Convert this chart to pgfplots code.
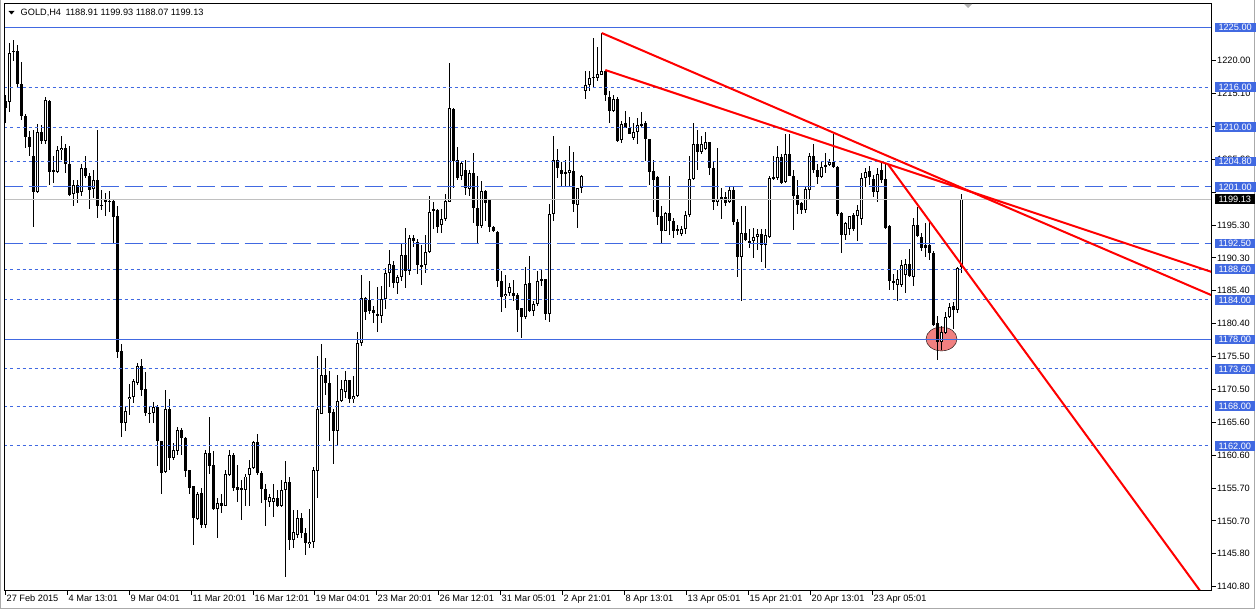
\documentclass[border=0pt]{standalone}
\usepackage{fontspec}
\setmainfont{Liberation Sans}
\usepackage{pgfplots}
\pgfplotsset{compat=1.18}
\usepackage{pgfplotstable}
\definecolor{mtblue}{RGB}{65,105,225}
\definecolor{mtred}{RGB}{255,0,0}
\definecolor{lcoral}{RGB}{240,128,128}
\definecolor{curgray}{RGB}{192,192,192}
\definecolor{framegray}{RGB}{170,170,170}
\newcommand\lblfont{\fontsize{9.2}{10}\selectfont}

% GOLD H4 candles: open high low close (bar index = row number)
\pgfplotstableread{
o h l c
1213.9 1214.9 1210.6 1212.9
1213.8 1222.7 1212.3 1221.2
1221.5 1223.2 1219.9 1221.3
1221.5 1222.4 1216.1 1216.5
1216.5 1219.8 1211.1 1211.6
1211.7 1211.9 1206.9 1208.5
1208.5 1209.4 1205.6 1207.0
1205.7 1209.6 1195.0 1200.2
1200.2 1210.4 1200.1 1209.3
1209.3 1210.3 1207.4 1207.9
1207.9 1214.6 1207.4 1214.1
1214.0 1214.1 1201.3 1203.3
1203.6 1205.6 1201.6 1203.3
1203.2 1207.1 1203.1 1206.6
1206.5 1208.7 1205.1 1206.9
1206.9 1207.4 1203.1 1204.5
1204.5 1207.1 1199.6 1199.8
1199.9 1202.1 1198.1 1201.3
1201.3 1202.1 1198.6 1200.1
1200.2 1204.5 1199.6 1203.9
1203.9 1205.6 1202.3 1202.6
1202.7 1203.1 1197.6 1200.5
1200.7 1203.6 1199.3 1202.1
1202.0 1209.5 1196.3 1198.1
1198.3 1200.6 1197.5 1198.1
1199.1 1200.1 1196.6 1198.8
1198.9 1200.4 1197.3 1198.8
1198.9 1199.0 1192.6 1196.4
1196.6 1198.1 1175.2 1176.2
1176.3 1177.4 1163.4 1165.4
1165.4 1167.9 1164.3 1167.3
1169.0 1171.4 1166.7 1169.4
1169.4 1172.1 1168.5 1171.8
1171.5 1174.5 1171.2 1174.1
1174.1 1175.1 1169.5 1170.5
1170.6 1173.2 1166.5 1166.9
1167.0 1167.9 1165.5 1166.9
1166.9 1168.6 1165.5 1167.9
1167.9 1168.2 1159.0 1162.7
1162.8 1162.8 1154.8 1158.0
1158.0 1170.4 1157.9 1167.5
1167.5 1169.0 1158.4 1160.2
1160.2 1162.4 1159.9 1161.4
1161.3 1164.9 1160.7 1164.4
1164.4 1164.7 1160.7 1163.2
1163.2 1163.4 1157.4 1158.2
1158.3 1158.3 1154.7 1155.7
1155.9 1156.0 1147.1 1151.1
1151.0 1155.0 1150.9 1154.8
1154.9 1155.7 1149.6 1150.1
1150.1 1161.4 1149.6 1160.9
1160.9 1166.4 1157.7 1159.0
1159.2 1161.3 1152.3 1152.5
1152.5 1154.2 1148.2 1153.4
1153.4 1154.8 1151.9 1152.9
1153.0 1158.3 1152.9 1157.7
1157.6 1161.4 1157.4 1160.7
1160.7 1160.9 1155.2 1155.6
1155.8 1159.2 1153.6 1155.4
1155.6 1156.9 1150.9 1155.3
1155.3 1157.8 1152.9 1157.4
1157.7 1159.9 1152.9 1158.7
1158.7 1162.8 1158.5 1162.6
1162.6 1163.8 1157.7 1157.9
1157.9 1158.3 1153.4 1155.5
1155.5 1156.3 1150.0 1153.8
1153.6 1154.8 1152.8 1154.3
1153.6 1156.3 1151.3 1154.2
1154.2 1155.4 1152.8 1153.0
1153.0 1156.8 1152.8 1155.4
1155.4 1159.7 1142.3 1156.6
1156.6 1157.4 1146.4 1147.8
1147.8 1152.4 1146.6 1149.0
1148.6 1152.4 1148.1 1151.1
1151.1 1151.9 1148.1 1148.9
1148.9 1149.6 1145.6 1147.4
1147.2 1152.5 1146.6 1147.6
1147.5 1158.9 1146.6 1158.3
1158.3 1175.5 1154.2 1167.5
1166.8 1177.4 1166.8 1172.7
1172.7 1175.2 1169.7 1171.5
1171.5 1173.3 1162.8 1167.0
1167.1 1167.5 1159.2 1164.3
1164.3 1172.7 1162.1 1168.8
1168.7 1172.0 1168.6 1170.6
1170.1 1173.3 1169.2 1171.9
1171.9 1172.0 1168.5 1169.0
1169.0 1172.5 1168.4 1169.5
1169.5 1179.2 1169.4 1177.5
1177.5 1187.8 1177.1 1184.3
1184.3 1184.5 1181.0 1182.1
1184.0 1186.8 1181.8 1182.3
1182.4 1183.0 1180.5 1182.0
1181.9 1186.0 1179.1 1181.5
1181.5 1186.1 1180.5 1184.1
1184.1 1188.8 1182.6 1188.0
1188.0 1191.5 1186.0 1189.4
1189.3 1189.9 1185.8 1186.6
1186.6 1187.8 1184.8 1187.4
1187.4 1192.5 1186.8 1190.8
1190.8 1194.8 1185.8 1188.4
1188.4 1193.8 1187.8 1193.3
1193.3 1193.8 1192.0 1192.9
1192.7 1193.1 1187.9 1189.3
1189.3 1192.3 1186.3 1189.0
1189.2 1193.7 1188.1 1191.2
1191.2 1199.6 1191.0 1197.3
1197.6 1198.8 1194.6 1197.3
1197.6 1197.7 1194.1 1195.0
1195.2 1197.7 1194.1 1196.2
1196.1 1199.9 1195.9 1198.8
1198.8 1219.7 1198.8 1212.9
1212.7 1212.9 1200.8 1204.9
1205.1 1207.0 1202.1 1202.4
1202.6 1204.7 1202.1 1204.6
1203.6 1205.1 1199.8 1200.8
1200.7 1203.6 1199.6 1203.1
1203.1 1206.1 1195.6 1197.8
1197.8 1202.7 1192.4 1195.1
1195.1 1201.9 1194.8 1200.4
1200.4 1200.6 1195.9 1198.6
1199.0 1199.1 1194.2 1195.0
1194.9 1195.1 1194.2 1194.3
1194.2 1194.3 1186.0 1186.8
1186.8 1188.4 1182.1 1184.5
1184.5 1187.8 1182.8 1184.9
1185.0 1186.6 1184.5 1186.0
1185.1 1187.0 1183.8 1184.6
1184.8 1185.0 1179.2 1182.5
1182.7 1182.8 1178.2 1181.4
1181.4 1189.0 1181.1 1186.4
1186.5 1190.6 1182.1 1182.3
1182.3 1183.8 1181.6 1183.4
1183.3 1188.3 1183.0 1186.8
1186.8 1188.7 1186.0 1187.1
1187.1 1187.1 1180.9 1181.8
1181.8 1198.4 1180.6 1196.9
1196.9 1208.6 1195.9 1205.0
1205.0 1206.7 1202.3 1203.9
1203.6 1204.8 1201.1 1203.0
1203.2 1205.0 1201.1 1203.0
1203.1 1207.2 1201.1 1203.6
1203.4 1206.2 1197.3 1198.4
1198.3 1200.9 1194.8 1200.8
1200.8 1202.8 1200.1 1202.7
1215.5 1218.5 1214.3 1216.4
1216.3 1218.5 1215.4 1217.4
1217.4 1223.4 1216.1 1217.6
1217.4 1222.0 1216.9 1218.0
1217.9 1224.2 1217.9 1218.5
1218.4 1218.65 1213.9 1214.8
1214.6 1215.5 1210.6 1212.4
1212.4 1214.8 1212.3 1214.3
1214.3 1214.6 1207.8 1207.9
1208.1 1210.9 1207.6 1210.5
1210.6 1212.4 1209.9 1209.9
1209.9 1211.5 1208.9 1208.9
1208.4 1210.6 1208.1 1209.3
1209.3 1211.4 1207.5 1210.4
1210.5 1212.3 1209.9 1210.3
1210.6 1210.9 1204.9 1208.2
1208.2 1208.2 1201.3 1203.2
1203.4 1205.1 1197.3 1202.1
1202.5 1202.7 1195.3 1196.4
1196.6 1198.1 1192.4 1194.4
1194.4 1197.3 1194.3 1197.1
1197.1 1202.7 1193.7 1195.8
1195.9 1196.3 1193.3 1194.3
1194.6 1195.2 1193.7 1194.3
1193.9 1195.05 1193.6 1194.6
1194.6 1197.3 1193.95 1196.7
1196.7 1205.6 1196.5 1202.2
1202.2 1210.6 1202.1 1207.4
1207.4 1209.5 1203.5 1206.2
1206.2 1208.6 1205.9 1207.5
1206.7 1209.2 1206.6 1207.7
1207.7 1207.7 1202.8 1203.9
1203.9 1204.8 1197.5 1198.8
1198.8 1206.9 1198.1 1199.2
1199.2 1200.8 1196.2 1199.5
1199.5 1200.3 1198.1 1198.6
1198.8 1201.2 1198.6 1200.6
1200.6 1201.1 1195.3 1195.7
1195.7 1196.1 1187.5 1190.5
1190.5 1198.1 1183.8 1194.1
1194.1 1198.1 1192.8 1193.05
1192.9 1194.6 1191.8 1192.5
1192.8 1194.8 1190.3 1193.5
1193.5 1194.6 1191.55 1193.95
1193.95 1194.7 1189.7 1192.3
1192.3 1194.6 1188.8 1193.8
1193.5 1202.6 1193.3 1202.3
1202.2 1205.6 1202.1 1202.5
1202.3 1207.2 1202.1 1205.5
1205.5 1206.0 1201.5 1201.6
1201.7 1209.0 1201.6 1205.9
1205.9 1209.0 1202.6 1202.7
1202.7 1203.6 1194.45 1199.7
1199.8 1202.1 1196.96 1198.3
1198.6 1198.8 1197.0 1197.5
1197.5 1201.2 1197.1 1200.7
1200.6 1206.1 1199.2 1205.7
1205.7 1207.4 1203.1 1203.5
1203.6 1204.5 1201.5 1202.5
1202.5 1204.8 1202.3 1204.0
1204.1 1206.1 1203.1 1204.3
1204.3 1205.2 1204.1 1204.8
1204.8 1209.0 1203.9 1204.0
1204.0 1204.1 1196.6 1197.0
1197.1 1197.2 1191.1 1193.8
1193.8 1195.8 1193.05 1195.6
1194.6 1196.7 1193.8 1196.6
1196.8 1197.1 1194.4 1194.6
1196.7 1198.3 1192.8 1197.6
1196.1 1203.1 1195.3 1202.3
1202.3 1203.9 1201.0 1203.3
1203.4 1204.1 1201.3 1202.5
1202.2 1202.8 1199.5 1200.3
1200.3 1203.9 1198.8 1203.0
1203.6 1204.6 1201.6 1202.1
1202.2 1204.6 1194.7 1194.8
1195.05 1195.2 1185.5 1186.8
1186.9 1187.9 1185.5 1186.5
1186.3 1188.5 1183.9 1187.1
1186.3 1190.0 1186.0 1189.3
1187.8 1190.1 1185.1 1189.4
1189.4 1191.7 1187.5 1187.6
1187.5 1196.3 1186.0 1195.2
1195.2 1197.97 1193.5 1193.65
1193.5 1194.1 1191.3 1191.8
1192.3 1195.6 1190.4 1191.8
1192.3 1195.65 1190.0 1191.0
1191.0 1191.3 1180.0 1180.2
1180.5 1181.5 1174.9 1177.6
1177.6 1180.0 1176.5 1179.2
1179.0 1182.1 1178.8 1181.4
1181.4 1183.5 1181.3 1182.9
1183.0 1183.6 1179.6 1182.4
1182.4 1189.0 1182.0 1188.8
1188.91 1199.93 1188.07 1199.13
}\candles

\pgfplotsset{
  candlepart/.style={draw=none, mark=none, forget plot,
    error bars/.cd, y dir=both, y explicit, error mark=none,
    error bar style={line cap=butt, #1}},
  level/.style={color=mtblue, line width=1pt, mark=none, forget plot},
}

\begin{document}
\begin{tikzpicture}
\path[use as bounding box] (0pt,0pt) rectangle (1257pt,611pt);
\fill[white] (0pt,0pt) rectangle (1257pt,611pt);
\draw[framegray, line width=1pt] (0.5pt,611pt) -- (0.5pt,2.5pt) -- (1254.5pt,2.5pt) -- (1254.5pt,611pt);
\begin{axis}[
  at={(4.5pt,20.5pt)}, anchor=south west,
  scale only axis, width=1207pt, height=587pt,
  xmin=-0.25, xmax=301.5, ymin=1140.224, ymax=1228.614,
  clip marker paths=true,
  axis line style={black, line width=1pt},
  tick align=outside, major tick length=4pt,
  tick style={black, line width=1pt},
  xtick pos=bottom, ytick pos=right, yticklabel pos=right,
  ytick={1140.8,1145.75,1150.7,1155.65,1160.6,1165.55,1170.5,1175.45,1180.4,1185.35,1190.3,1195.25,1200.2,1205.15,1210.1,1215.05,1220},
  yticklabels={1140.80,1145.80,1150.70,1155.70,1160.60,1165.60,1170.50,1175.50,1180.40,1185.40,1190.30,1195.30,{},1205.20,{},1215.10,1220.00},
  yticklabel style={anchor=west, inner sep=0pt, font=\lblfont, xshift=1.5pt},
  xtick={0,15.5,31,46.5,62,77.25,92.75,108.25,123.75,139.25,154.75,170.25,185.75,201.25,216.75},
  xticklabels={27 Feb 2015,4 Mar 13:01,9 Mar 04:01,11 Mar 20:01,16 Mar 12:01,19 Mar 04:01,23 Mar 20:01,26 Mar 12:01,31 Mar 05:01,2 Apr 21:01,8 Apr 13:01,13 Apr 05:01,15 Apr 21:01,20 Apr 13:01,23 Apr 05:01},
  xticklabel style={anchor=north west, inner sep=0pt, font=\lblfont, xshift=1pt},
  axis on top,
]
% highlight ellipse (background object)
\addplot[only marks, mark=*, mark size=15.5pt, mark options={fill=lcoral, draw=none, yscale=0.77}, forget plot] coordinates {(234.0,1178.1)};
% wicks
\addplot[candlepart={draw=black, line width=1pt}]
  table[x expr=\coordindex, y expr={(\thisrow{h}+\thisrow{l})/2}, y error expr={(\thisrow{h}-\thisrow{l})/2}] {\candles};
% bodies (outline / filled)
\addplot[candlepart={draw=black, line width=3pt}]
  table[x expr=\coordindex, y expr={(\thisrow{o}+\thisrow{c})/2}, y error expr={max(abs(\thisrow{c}-\thisrow{o})/2,0.075)}] {\candles};
% hollow interior of rising candles
\addplot[candlepart={draw=white, line width=1pt}]
  table[x expr=\coordindex, y expr={(\thisrow{o}+\thisrow{c})/2}, y error expr={(\thisrow{c}>\thisrow{o})*max(abs(\thisrow{c}-\thisrow{o})/2-0.15,0)}] {\candles};
% horizontal levels
\addplot[color=curgray, line width=1pt, mark=none, forget plot] coordinates {(-0.25,1199.13) (301.5,1199.13)};
\addplot[level] coordinates {(-0.25,1225) (301.5,1225)};
\addplot[level] coordinates {(-0.25,1178) (301.5,1178)};
\addplot[level, dash pattern=on 3pt off 3pt] coordinates {(-0.25,1216) (301.5,1216)};
\addplot[level, dash pattern=on 3pt off 3pt] coordinates {(-0.25,1210) (301.5,1210)};
\addplot[level, dash pattern=on 3pt off 3pt] coordinates {(-0.25,1204.8) (301.5,1204.8)};
\addplot[level, dash pattern=on 3pt off 3pt] coordinates {(-0.25,1188.6) (301.5,1188.6)};
\addplot[level, dash pattern=on 3pt off 3pt] coordinates {(-0.25,1184) (301.5,1184)};
\addplot[level, dash pattern=on 3pt off 3pt] coordinates {(-0.25,1173.6) (301.5,1173.6)};
\addplot[level, dash pattern=on 3pt off 3pt] coordinates {(-0.25,1168) (301.5,1168)};
\addplot[level, dash pattern=on 3pt off 3pt] coordinates {(-0.25,1162) (301.5,1162)};
\addplot[level, dash pattern=on 18pt off 6pt] coordinates {(-0.25,1201) (301.5,1201)};
\addplot[level, dash pattern=on 18pt off 6pt] coordinates {(-0.25,1192.5) (301.5,1192.5)};
% trend lines
\addplot[color=mtred, line width=2pt, mark=none, forget plot] coordinates {(149.05,1224.17) (301.5,1184.69)};
\addplot[color=mtred, line width=2pt, mark=none, forget plot] coordinates {(149.95,1218.6) (301.5,1188.2)};
\addplot[color=mtred, line width=2pt, mark=none, forget plot] coordinates {(220.7,1204.34) (298.6,1140.224)};
% anchors for price boxes
\coordinate (p1225) at (axis cs:301.5,1225);
\coordinate (p1216) at (axis cs:301.5,1216);
\coordinate (p1210) at (axis cs:301.5,1210);
\coordinate (p12048) at (axis cs:301.5,1204.8);
\coordinate (p1201) at (axis cs:301.5,1201);
\coordinate (pcur) at (axis cs:301.5,1199.13);
\coordinate (p11925) at (axis cs:301.5,1192.5);
\coordinate (p11886) at (axis cs:301.5,1188.6);
\coordinate (p1184) at (axis cs:301.5,1184);
\coordinate (p1178) at (axis cs:301.5,1178);
\coordinate (p11736) at (axis cs:301.5,1173.6);
\coordinate (p1168) at (axis cs:301.5,1168);
\coordinate (p1162) at (axis cs:301.5,1162);
\end{axis}
\tikzset{pbox/.style={anchor=west, fill=mtblue, text=white, inner xsep=4pt, inner ysep=1.5pt, text height=6.6pt, text depth=0pt, font=\lblfont}}
\node[pbox] at ([xshift=2.8pt]p1225) {1225.00};
\node[pbox] at ([xshift=2.8pt]p1216) {1216.00};
\node[pbox] at ([xshift=2.8pt]p1210) {1210.00};
\node[pbox] at ([xshift=2.8pt]p12048) {1204.80};
\node[pbox] at ([xshift=2.8pt]p1201) {1201.00};
\node[pbox, fill=black] at ([xshift=2.8pt]pcur) {1199.13};
\node[pbox] at ([xshift=2.8pt]p11925) {1192.50};
\node[pbox] at ([xshift=2.8pt]p11886) {1188.60};
\node[pbox] at ([xshift=2.8pt]p1184) {1184.00};
\node[pbox] at ([xshift=2.8pt]p1178) {1178.00};
\node[pbox] at ([xshift=2.8pt]p11736) {1173.60};
\node[pbox] at ([xshift=2.8pt]p1168) {1168.00};
\node[pbox] at ([xshift=2.8pt]p1162) {1162.00};
% header
\fill[black] (8.5pt,600pt) -- (14.5pt,600pt) -- (11.5pt,596.5pt) -- cycle;
\node[anchor=west, inner sep=0pt, font=\lblfont] at (20.5pt,598pt) {GOLD,H4\hspace{4.5pt}1188.91 1199.93 1188.07 1199.13};
\fill[black!30] (964pt,607pt) -- (972pt,607pt) -- (968pt,603pt) -- cycle;
\end{tikzpicture}
\end{document}
